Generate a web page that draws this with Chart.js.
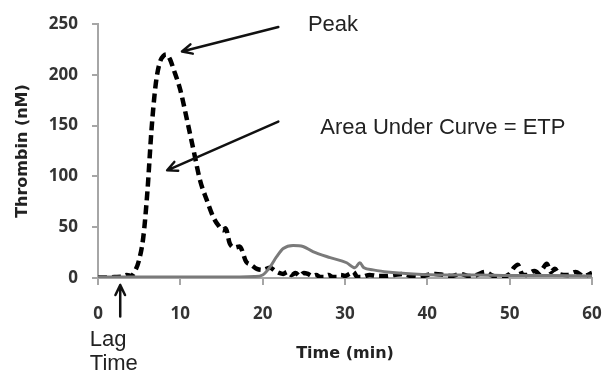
<!DOCTYPE html>
<html>
<head>
<meta charset="utf-8">
<script src="https://cdn.jsdelivr.net/npm/chart.js@4"></script>
<style>
    html, body { margin: 0; padding: 0; background: #fff; }
    #wrap { width: 605px; height: 371px; }
</style>
</head>
<body>
<div id="wrap"><canvas id="thrombin"></canvas></div>
<script>
// dashed curve (normal plasma)
const dashedTime = [0, 1, 2, 3, 3.5, 4, 4.5, 5, 5.5, 6, 6.5, 7, 7.5, 8, 8.3, 8.7, 9.2, 10, 10.8, 11.6, 12.4, 13.2, 14, 14.6, 15.2, 15.5, 16, 16.6, 17.2, 18, 18.6, 19.3, 20, 20.9, 21.5, 22, 22.5, 23, 23.5, 24, 24.5, 25, 25.5, 26, 26.5, 27, 27.5, 28, 28.5, 29, 29.5, 30, 30.5, 31, 31.5, 32, 33, 34, 35, 36, 37, 38, 39, 40, 41, 42, 43, 44, 45, 46, 47, 48, 49, 50, 50.5, 51, 51.5, 52, 53, 53.5, 54, 54.5, 55, 55.5, 56, 57, 58, 59, 60];
const dashedThrombin = [0.5, 0.5, 1, 1.5, 3, 2, 7, 18, 40, 85, 146, 190, 212, 219, 220, 216, 205, 185, 156, 126, 96, 77, 60, 52, 47, 49, 34, 30, 31, 16, 13, 9, 8, 10, 7, 5, 4, 6, 3, 5, 2, 5, 4, 2, 3, 1, 1, 3, 1, 1, 3, 2, 4, 6, 1, 1, 3, 2, 2, 3, 4, 2, 1, 3, 4, 3, 2, 4, 2, 3, 6, 2, 1, 4, 10, 13, 4, 3, 7, 5, 9, 14, 6, 9, 4, 3, 6, 2, 5];

// solid grey curve (low thrombin generation)
const solidTime = [0, 5, 10, 15, 19, 20, 20.9, 21.7, 22.5, 23.7, 24.9, 26.1, 28.2, 30.2, 31.2, 31.8, 32.3, 33.4, 35.1, 38.3, 42, 46, 50, 55, 60];
const solidThrombin = [1, 1, 1, 1, 1.5, 3, 11, 21, 29, 32, 31, 26, 20, 15, 10, 15, 10, 8, 6, 4, 3, 3, 2.5, 2.5, 2];

const xTicks = [0, 10, 20, 30, 40, 50, 60];
const yTicks = [0, 50, 100, 150, 200, 250];

// annotations in data units: [x, y]
const peakArrow = { from: [21.9, 247], to: [10.2, 223] };
const peakLabel = { text: 'Peak', at: [25.5, 249] };
const etpArrow = { from: [21.9, 154], to: [8.4, 106] };
const etpLabel = { text: 'Area Under Curve = ETP', at: [27.0, 148] };
const lagArrow = { from: [2.7, -38], to: [2.7, -7] };
const lagLabel = { lines: ['Lag', 'Time'], at: [-1.0, -61], step: -23.5 };

const axisGrey = '#a6a6a6';
const tickFont = { family: "'Open Sans', sans-serif", size: 17, weight: 'bold' };
const titleFont = { family: "'DejaVu Sans', sans-serif", size: 16, weight: 'bold' };
const noteFont = "22px 'Liberation Sans', Arial, sans-serif";

function toPoints(xs, ys) {
    return xs.map((x, i) => ({ x: x, y: ys[i] }));
}

function drawArrow(ctx, x1, y1, x2, y2) {
    const angle = Math.atan2(y2 - y1, x2 - x1);
    const head = 11;
    ctx.beginPath();
    ctx.moveTo(x1, y1);
    ctx.lineTo(x2, y2);
    ctx.moveTo(x2 - head * Math.cos(angle - 0.45), y2 - head * Math.sin(angle - 0.45));
    ctx.lineTo(x2, y2);
    ctx.lineTo(x2 - head * Math.cos(angle + 0.45), y2 - head * Math.sin(angle + 0.45));
    ctx.stroke();
}

const notesPlugin = {
    id: 'notes',
    afterDraw(chart) {
        const ctx = chart.ctx;
        const xs = chart.scales.x;
        const ys = chart.scales.y;
        const px = (p) => [xs.getPixelForValue(p[0]), ys.getPixelForValue(p[1])];

        ctx.save();
        ctx.strokeStyle = '#111';
        ctx.lineWidth = 2.5;
        ctx.lineCap = 'round';
        ctx.lineJoin = 'round';
        [peakArrow, etpArrow, lagArrow].forEach((a) => {
            const f = px(a.from);
            const t = px(a.to);
            drawArrow(ctx, f[0], f[1], t[0], t[1]);
        });

        ctx.fillStyle = '#222';
        ctx.font = noteFont;
        ctx.textAlign = 'left';
        ctx.textBaseline = 'middle';
        [peakLabel, etpLabel].forEach((l) => {
            const p = px(l.at);
            ctx.fillText(l.text, p[0], p[1]);
        });
        lagLabel.lines.forEach((line, i) => {
            const p = px([lagLabel.at[0], lagLabel.at[1] + i * lagLabel.step]);
            ctx.fillText(line, p[0], p[1]);
        });
        ctx.restore();
    }
};

new Chart(document.getElementById('thrombin').getContext('2d'), {
    type: 'line',
    data: {
        datasets: [
            {
                label: 'Low',
                data: toPoints(solidTime, solidThrombin),
                borderColor: '#7a7a7a',
                borderWidth: 3,
                pointRadius: 0,
                fill: false,
                cubicInterpolationMode: 'monotone'
            },
            {
                label: 'Normal',
                data: toPoints(dashedTime, dashedThrombin),
                borderColor: '#000',
                borderWidth: 4.5,
                borderDash: [9, 5],
                pointRadius: 0,
                fill: false,
                cubicInterpolationMode: 'monotone'
            }
        ]
    },
    options: {
        responsive: true,
        maintainAspectRatio: false,
        animation: false,
        layout: { padding: { top: 24, right: 13, left: 0, bottom: 0 } },
        plugins: {
            legend: { display: false },
            tooltip: { enabled: false }
        },
        scales: {
            x: {
                type: 'linear',
                min: 0,
                max: 60,
                afterFit(scale) {
                    scale.height = 93;
                    scale.paddingLeft = 0;
                    scale.paddingRight = 0;
                },
                afterBuildTicks(scale) { scale.ticks = xTicks.map((v) => ({ value: v })); },
                border: { display: true, color: axisGrey, width: 2 },
                grid: { display: true, drawOnChartArea: false, drawTicks: true, tickLength: 7, color: axisGrey, lineWidth: 2 },
                ticks: { font: tickFont, color: '#333', padding: 19, maxRotation: 0 },
                title: { display: true, text: 'Time (min)', font: titleFont, color: '#222', padding: { top: 0, bottom: 8 } }
            },
            y: {
                min: 0,
                max: 250,
                afterFit(scale) {
                    scale.width = 98;
                    scale.paddingTop = 0;
                    scale.paddingBottom = 0;
                },
                afterBuildTicks(scale) { scale.ticks = yTicks.map((v) => ({ value: v })); },
                border: { display: true, color: axisGrey, width: 2 },
                grid: { display: true, drawOnChartArea: false, drawTicks: true, tickLength: 6, color: axisGrey, lineWidth: 2 },
                ticks: { font: tickFont, color: '#333', padding: 14 },
                title: { display: true, text: 'Thrombin (nM)', font: titleFont, color: '#222', padding: { top: 13, bottom: 0 } }
            }
        }
    },
    plugins: [notesPlugin]
});
</script>
</body>
</html>
